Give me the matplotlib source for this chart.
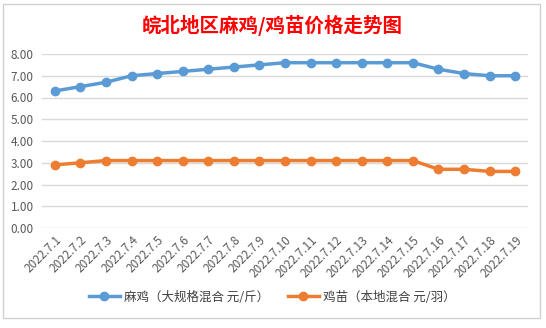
import matplotlib.pyplot as plt
from matplotlib.patches import Rectangle

plt.rcParams['font.family'] = ['Noto Sans CJK SC', 'DejaVu Sans']

dates = ['2022.7.%d' % d for d in range(1, 20)]
maji = [6.3, 6.5, 6.7, 7.0, 7.1, 7.2, 7.3, 7.4, 7.5, 7.6,
        7.6, 7.6, 7.6, 7.6, 7.6, 7.3, 7.1, 7.0, 7.0]
jimiao = [2.9, 3.0, 3.1, 3.1, 3.1, 3.1, 3.1, 3.1, 3.1, 3.1,
          3.1, 3.1, 3.1, 3.1, 3.1, 2.7, 2.7, 2.6, 2.6]
yticks = [0, 1, 2, 3, 4, 5, 6, 7, 8]

W, H = 546, 328
fig = plt.figure(figsize=(W / 100, H / 100), dpi=100)
fig.patch.set_facecolor('white')
fig.patches.append(Rectangle((3 / W, 1 - 318 / H), 537 / W, 314 / H,
                             transform=fig.transFigure, fill=False,
                             edgecolor='#d0d0d0', linewidth=1))

ax = fig.add_axes([42 / W, 1 - 228 / H, 486 / W, 174 / H])
x = range(len(dates))
ax.plot(x, maji, color='#5B9BD5', lw=2.5, marker='o', ms=6,
        label='麻鸡（大规格混合 元/斤）')
ax.plot(x, jimiao, color='#ED7D31', lw=2.5, marker='o', ms=6,
        label='鸡苗（本地混合 元/羽）')

ax.set_xlim(-0.5, len(dates) - 0.5)
ax.set_ylim(0, 8)
ax.set_yticks(yticks)
ax.set_yticklabels(['%.2f' % v for v in yticks])
ax.set_xticks(list(x))
ax.set_xticklabels(dates, rotation=45, ha='right', rotation_mode='anchor')
ax.tick_params(axis='both', length=0, colors='#595959', labelsize=8.5)
ax.tick_params(axis='y', pad=6)
ax.tick_params(axis='x', pad=4)
ax.grid(axis='y', color='#d9d9d9', lw=1)
ax.set_axisbelow(True)
for s in ax.spines.values():
    s.set_visible(False)

fig.text(272 / W, 1 - 25 / H, '皖北地区麻鸡/鸡苗价格走势图', color='red',
         fontsize=14, fontweight='bold', ha='center', va='center')

fig.legend(loc='center', bbox_to_anchor=(272 / W, 1 - 297 / H), ncol=2,
           frameon=False, fontsize=9, labelcolor='#404040',
           handlelength=2.5, handletextpad=0.3, columnspacing=1.5)

fig.savefig('out.png', dpi=100)
